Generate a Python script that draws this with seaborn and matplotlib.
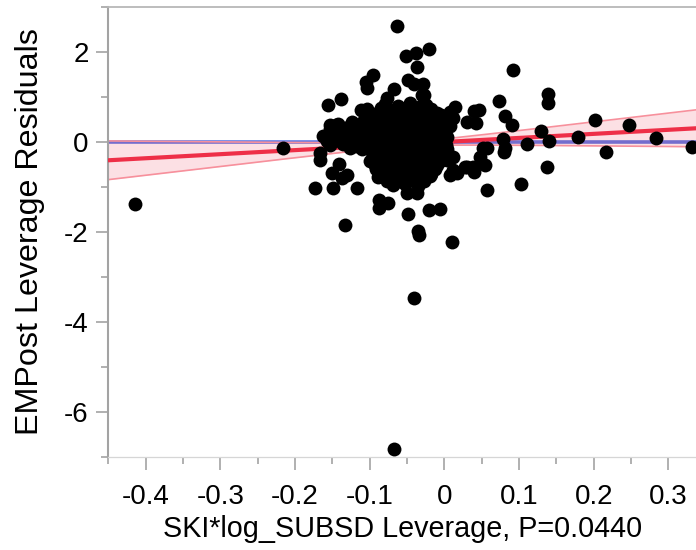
import matplotlib
matplotlib.use("Agg")
import numpy as np
import pandas as pd
import matplotlib.pyplot as plt
import seaborn as sns
from matplotlib.ticker import MultipleLocator, FuncFormatter

# Leverage residuals: scattered observations
outer_x = [-0.414, -0.216, -0.063, -0.067, -0.040, -0.051, -0.038, -0.020, -0.037, 0.0915,
           -0.095, -0.105, -0.103, -0.049, -0.028, -0.067, -0.077, -0.139, -0.156, 0.139,
           0.139, 0.073, 0.014, 0.047, 0.040, -0.111, 0.081, 0.0906, 0.130, 0.202,
           0.247, 0.1785, 0.284, 0.332, 0.216, 0.140, 0.111, 0.079, 0.081, 0.080,
           0.137, 0.1026, 0.0575, 0.054, 0.052, 0.057, 0.048, 0.040, 0.028, 0.0165,
           0.0075, -0.006, -0.021, 0.0106, -0.035, -0.034, -0.049, -0.0875, -0.076, -0.087,
           -0.133, -0.173, -0.149, -0.117, -0.167, -0.167, -0.162, -0.150, -0.141, -0.131,
           -0.1375, -0.050, -0.037, -0.033, -0.153, -0.142, -0.041, -0.030, -0.027, -0.025,
           -0.005, 0.012, 0.030, 0.043, 0.030, 0.012, 0.012, 0.039]
outer_y = [-1.39, -0.15, 2.56, -6.83, -3.47, 1.91, 1.96, 2.06, 1.67, 1.60,
           1.48, 1.33, 1.19, 1.37, 1.28, 1.16, 0.96, 0.95, 0.82, 1.07,
           0.85, 0.91, 0.78, 0.70, 0.68, 0.70, 0.56, 0.36, 0.24, 0.48,
           0.38, 0.10, 0.09, -0.12, -0.24, 0.02, -0.05, 0.07, -0.15, -0.22,
           -0.56, -0.93, -1.08, -0.52, -0.15, -0.15, -0.33, -0.67, -0.56, -0.70,
           -0.74, -1.50, -1.52, -2.24, -1.98, -2.08, -1.61, -1.30, -1.36, -1.48,
           -1.85, -1.04, -1.04, -1.04, -0.41, -0.26, 0.12, -0.70, -0.50, -0.74,
           -0.81, -1.15, -1.13, -0.85, 0.37, 0.39, 1.28, 1.04, 1.04, 0.82,
           0.59, 0.52, 0.44, 0.41, -0.56, -0.63, -0.33, -0.56]

# Leverage residuals: dense core of observations
core_x = [-0.080, -0.062, -0.046, -0.031,
          -0.103, -0.085, -0.068, -0.052, -0.036, -0.018,
          -0.093, -0.076, -0.059, -0.043, -0.026, -0.010, 0.007,
          -0.098, -0.081, -0.065, -0.049, -0.032, -0.015, 0.002,
          -0.124, -0.107, -0.089, -0.073, -0.057, -0.041, -0.023, -0.006,
          -0.145, -0.125, -0.108, -0.091, -0.075, -0.058, -0.042, -0.025, -0.008, 0.008,
          -0.153, -0.133, -0.117, -0.100, -0.083, -0.066, -0.050, -0.034, -0.017, 0.001,
          -0.152, -0.135, -0.118, -0.102, -0.085, -0.068, -0.051, -0.035, -0.018, -0.004,
          -0.160, -0.144, -0.126, -0.110, -0.093, -0.076, -0.059, -0.043, -0.026, -0.010, 0.003,
          -0.157, -0.140, -0.122, -0.106, -0.089, -0.072, -0.056, -0.039, -0.022, -0.007,
          -0.153, -0.136, -0.118, -0.102, -0.086, -0.069, -0.053, -0.035, -0.019, 0.002,
          -0.127, -0.110, -0.094, -0.077, -0.061, -0.044, -0.027, -0.010, 0.004,
          -0.097, -0.080, -0.064, -0.046, -0.030, -0.013, 0.004,
          -0.088, -0.072, -0.055, -0.038, -0.021, -0.005,
          -0.100, -0.086, -0.073, -0.057, -0.039, -0.023, -0.006, 0.003,
          -0.093, -0.077, -0.060, -0.043, -0.026, -0.010,
          -0.092, -0.080, -0.064, -0.046, -0.030, -0.013,
          -0.085, -0.068, -0.051, -0.034, -0.018,
          -0.089, -0.073, -0.055, -0.038, -0.019,
          -0.077, -0.061, -0.044, -0.027,
          -0.069, -0.053, -0.035]
core_y = [0.84, 0.79, 0.86, 0.80,
          0.73, 0.75, 0.71, 0.74, 0.72, 0.73,
          0.62, 0.66, 0.63, 0.65, 0.61, 0.64, 0.66,
          0.53, 0.55, 0.57, 0.54, 0.56, 0.53, 0.55,
          0.44, 0.48, 0.45, 0.47, 0.43, 0.46, 0.48, 0.45,
          0.37, 0.36, 0.38, 0.35, 0.37, 0.39, 0.36, 0.38, 0.37, 0.35,
          0.28, 0.30, 0.26, 0.29, 0.27, 0.31, 0.28, 0.25, 0.29, 0.27,
          0.19, 0.20, 0.18, 0.21, 0.19, 0.17, 0.20, 0.18, 0.19, 0.21,
          0.10, 0.12, 0.08, 0.11, 0.09, 0.12, 0.10, 0.07, 0.11, 0.09, 0.10,
          0.01, 0.02, 0.00, 0.03, 0.01, -0.01, 0.02, 0.00, 0.01, 0.03,
          -0.07, -0.05, -0.09, -0.06, -0.08, -0.05, -0.07, -0.09, -0.06, -0.08,
          -0.15, -0.17, -0.16, -0.14, -0.17, -0.15, -0.16, -0.18, -0.16,
          -0.23, -0.26, -0.24, -0.27, -0.25, -0.23, -0.26,
          -0.34, -0.32, -0.35, -0.34, -0.33, -0.35,
          -0.43, -0.45, -0.41, -0.44, -0.42, -0.45, -0.43, -0.41,
          -0.52, -0.51, -0.53, -0.52, -0.54, -0.51,
          -0.61, -0.59, -0.63, -0.60, -0.62, -0.61,
          -0.70, -0.69, -0.71, -0.70, -0.72,
          -0.78, -0.80, -0.76, -0.79, -0.77,
          -0.87, -0.88, -0.86, -0.87,
          -0.96, -0.94, -0.98]

# Fitted leverage line, mean line and confidence curve parameters
fit_intercept = -0.0065
fit_slope = 0.9034
mean_level = 0.0
band_x_center = -0.047
band_min_half = 0.05
band_spread = 1.06

x_limits = (-0.45, 0.337)
y_limits = (-7.0, 3.0)

df = pd.DataFrame({"lev_x": outer_x + core_x, "lev_y": outer_y + core_y})

sns.set_theme(style="white")
plt.rcParams["font.family"] = ["Liberation Sans", "DejaVu Sans"]
plt.rcParams["axes.unicode_minus"] = False
plt.rcParams["text.color"] = "black"
plt.rcParams["axes.labelcolor"] = "black"

fig = plt.figure(figsize=(6.96, 5.5), dpi=100)
ax = fig.add_axes([108.3 / 696, 1 - 456.7 / 550, 1 - 108.3 / 696, 450 / 550])

xs = np.linspace(x_limits[0], x_limits[1], 300)
fit = fit_intercept + fit_slope * xs
half = np.sqrt(band_min_half ** 2 + (band_spread * (xs - band_x_center)) ** 2)

ax.plot(xs, np.full_like(xs, mean_level), color="#5f78e4", lw=2.6, zorder=1, solid_capstyle="butt")
ax.fill_between(xs, fit - half, fit + half, color="#f0304a", alpha=0.15, lw=0, zorder=2)
ax.plot(xs, fit - half, color="#f7909c", lw=1.2, zorder=2)
ax.plot(xs, fit + half, color="#f7909c", lw=1.2, zorder=2)
sns.lineplot(x=xs, y=fit, color="#ee2f47", lw=3.0, ax=ax, zorder=3)

sns.scatterplot(data=df, x="lev_x", y="lev_y", color="black", s=100, linewidth=0,
                ax=ax, zorder=4, clip_on=False)

ax.set_xlim(*x_limits)
ax.set_ylim(*y_limits)

ax.xaxis.set_major_locator(MultipleLocator(0.1))
ax.xaxis.set_minor_locator(MultipleLocator(0.05))
ax.yaxis.set_major_locator(MultipleLocator(2))
ax.yaxis.set_minor_locator(MultipleLocator(1))
fmt = FuncFormatter(lambda v, _: f"{round(v, 3) + 0.0:g}")
ax.xaxis.set_major_formatter(fmt)
ax.yaxis.set_major_formatter(fmt)

tick_col = "#a3a3a3"
ax.tick_params(axis="both", which="both", bottom=True, left=True, top=False, right=False)
ax.tick_params(axis="both", which="major", direction="out", length=9, width=1.2,
               colors=tick_col, labelcolor="black", labelsize=20)
ax.tick_params(axis="both", which="minor", direction="out", length=5, width=1.2,
               colors=tick_col)
ax.tick_params(axis="x", which="major", pad=11)
ax.tick_params(axis="y", which="major", pad=5)

ax.spines["left"].set_color("#a3a3a3")
ax.spines["left"].set_linewidth(1.5)
ax.spines["top"].set_color("#b8b8b8")
ax.spines["top"].set_linewidth(1.3)
ax.spines["bottom"].set_color("#d6d6d6")
ax.spines["bottom"].set_linewidth(0.9)
ax.spines["right"].set_visible(False)

ax.set_xlabel("SKI*log_SUBSD Leverage, P=0.0440", fontsize=20.7)
ax.set_ylabel("EMPost Leverage Residuals", fontsize=23.2)
ax.xaxis.label.set_va("center")
ax.yaxis.label.set_va("center")
ax.xaxis.set_label_coords(0.5, -0.1607)
ax.yaxis.set_label_coords(-0.134, 0.5)

fig.savefig("out.png", dpi=100)
